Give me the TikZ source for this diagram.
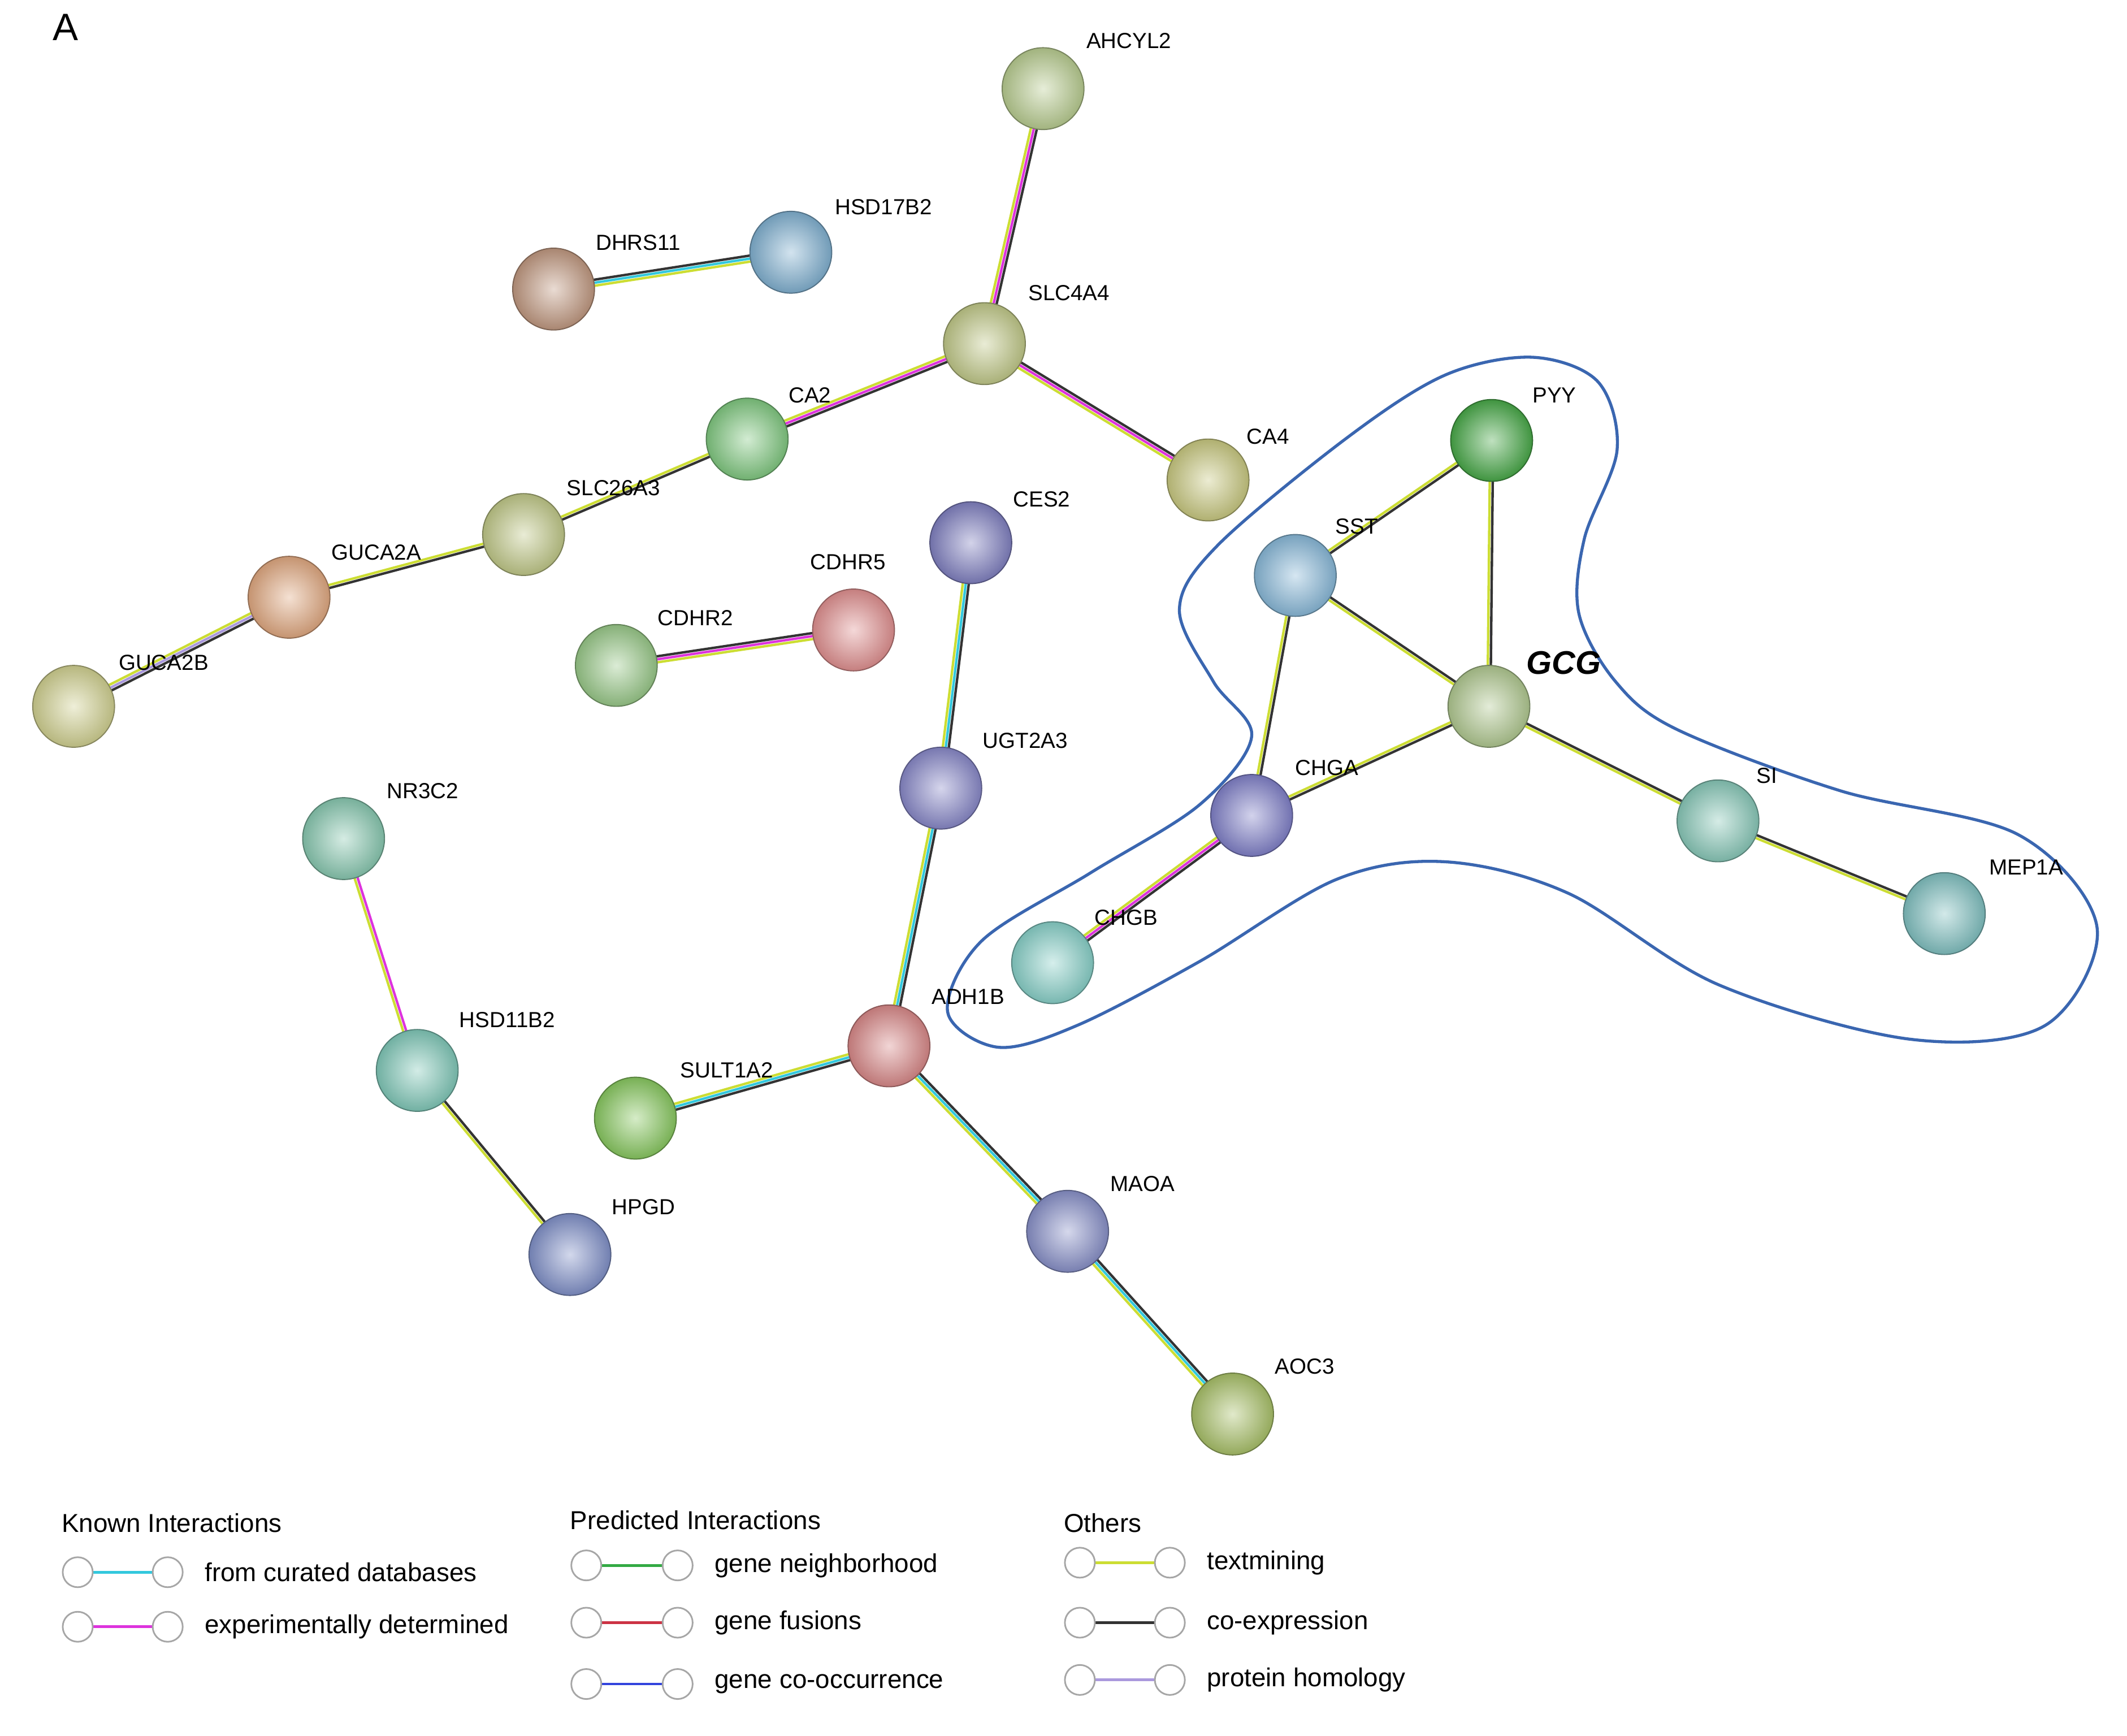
\documentclass[tikz,border=0pt]{standalone}
\usepackage{fontspec}
\setmainfont{Liberation Sans}
\usetikzlibrary{calc}
\definecolor{tm}{HTML}{CCDD33}
\definecolor{cur}{HTML}{33C8DD}
\definecolor{exp}{HTML}{DD33DD}
\definecolor{coe}{HTML}{333333}
\definecolor{hom}{HTML}{AA99DD}
\definecolor{nei}{HTML}{33AA44}
\definecolor{fus}{HTML}{CC3344}
\definecolor{coo}{HTML}{3344DD}
\definecolor{hull}{HTML}{3A66B0}
\newcommand\lnk[3]{\foreach \col/\off in {#3}{\draw[\col,line width=1.8pt] ($(#1)!\off pt!90:(#2)$) -- ($(#2)!\off pt!-90:(#1)$);}}
\tikzset{ball/.style={circle,minimum size=60pt,inner sep=0pt,shading=radial,inner color=#1!35!white,outer color=#1!88!black,draw=#1!65!black,line width=0.8pt},
lab/.style={font=\fontsize{16}{18}\selectfont,inner sep=0pt},
leg/.style={font=\fontsize{19}{22}\selectfont,inner sep=0pt,anchor=west},
lc/.style={circle,draw=gray!70,line width=1.2pt,fill=white,minimum size=22pt,inner sep=0pt}}
\begin{document}
\begin{tikzpicture}[x=1pt,y=-1pt]
\useasboundingbox (0,0) rectangle (1560,1273);
\node[font=\fontsize{28}{30}\selectfont] (A) at (48,20) {A};
% hull
\draw[hull,line width=2.2pt] plot[smooth cycle,tension=0.55] coordinates{(1124,262) (1060,275) (988,321) (893,400) (865,447) (890,500) (918,540) (880,590) (800,640) (720,690) (695,742) (732,768) (790,752) (880,705) (980,645) (1060,632) (1150,655) (1260,722) (1400,762) (1500,752) (1538,680) (1480,612) (1350,580) (1230,535) (1185,500) (1158,450) (1162,395) (1186,330) (1172,280)};
% coordinates
\foreach \n/\x/\y in {AHCYL2/765/65,DHRS11/406/212,HSD17B2/580/185,SLC4A4/722/252,CA2/548/322,CA4/886/352,SLC26A3/384/392,GUCA2A/212/438,GUCA2B/54/518,CES2/712/398,CDHR5/626/462,CDHR2/452/488,UGT2A3/690/578,NR3C2/252/615,HSD11B2/306/785,ADH1B/652/767,SULT1A2/466/820,HPGD/418/920,MAOA/783/903,AOC3/904/1037,PYY/1094/323,SST/950/422,GCG/1092/518,CHGA/918/598,SI/1260/602,MEP1A/1426/670,CHGB/772/706}
  \coordinate (\n) at (\x,\y);
% edges
\lnk{AHCYL2}{SLC4A4}{tm/-2.2,exp/0,coe/2.2}
\lnk{DHRS11}{HSD17B2}{tm/-2.2,cur/0,coe/2.2}
\lnk{SLC4A4}{CA2}{tm/-2.2,exp/0,coe/2.2}
\lnk{SLC4A4}{CA4}{tm/-2.2,exp/0,coe/2.2}
\lnk{CA2}{SLC26A3}{tm/-1.1,coe/1.1}
\lnk{SLC26A3}{GUCA2A}{tm/-1.1,coe/1.1}
\lnk{GUCA2A}{GUCA2B}{tm/-2.2,hom/0,coe/2.2}
\lnk{CES2}{UGT2A3}{tm/-2.2,cur/0,coe/2.2}
\lnk{CDHR2}{CDHR5}{tm/-2.2,exp/0,coe/2.2}
\lnk{UGT2A3}{ADH1B}{tm/-2.2,cur/0,coe/2.2}
\lnk{NR3C2}{HSD11B2}{tm/-1.1,exp/1.1}
\lnk{HSD11B2}{HPGD}{tm/-1.1,coe/1.1}
\lnk{ADH1B}{SULT1A2}{tm/-2.2,cur/0,coe/2.2}
\lnk{ADH1B}{MAOA}{tm/-2.2,cur/0,coe/2.2}
\lnk{MAOA}{AOC3}{tm/-2.2,cur/0,coe/2.2}
\lnk{PYY}{SST}{tm/-1.1,coe/1.1}
\lnk{PYY}{GCG}{tm/-1.1,coe/1.1}
\lnk{SST}{GCG}{tm/-1.1,coe/1.1}
\lnk{SST}{CHGA}{tm/-1.1,coe/1.1}
\lnk{GCG}{CHGA}{tm/-1.1,coe/1.1}
\lnk{GCG}{SI}{tm/-1.1,coe/1.1}
\lnk{SI}{MEP1A}{tm/-1.1,coe/1.1}
\lnk{CHGA}{CHGB}{tm/-2.2,exp/0,coe/2.2}
% node colours
\foreach \n/\h in {AHCYL2/B8CC90,DHRS11/C09880,HSD17B2/80B0D0,SLC4A4/C0C888,CA2/80C880,CA4/C8C880,SLC26A3/C0C888,GUCA2A/E0A880,GUCA2B/D0D090,CES2/8080C0,CDHR5/E09090,CDHR2/98C888,UGT2A3/8888C8,NR3C2/88C8B0,HSD11B2/80C8B8,ADH1B/D88888,SULT1A2/88C860,HPGD/8090C8,MAOA/8890C8,AOC3/A8C068,PYY/48A848,SST/88B8D8,GCG/B0C890,CHGA/8080C8,SI/88C8B8,MEP1A/80C0C0,CHGB/88D0C8}
  {\definecolor{c\n}{HTML}{\h}\node[ball=c\n] (n\n) at (\n) {};}
% labels
\foreach \n/\x/\y in {AHCYL2/828/30,DHRS11/468/178,HSD17B2/648/152,SLC4A4/784/215,CA2/594/290,CA4/930/320,SLC26A3/450/358,GUCA2A/276/405,GUCA2B/120/486,CES2/764/366,CDHR5/622/412,CDHR2/510/453,UGT2A3/752/543,NR3C2/310/580,HSD11B2/372/748,ADH1B/710/731,SULT1A2/533/785,HPGD/472/885,MAOA/838/868,AOC3/957/1002,PYY/1140/290,SST/995/386,CHGA/973/563,SI/1296/569,MEP1A/1486/636,CHGB/826/673}
  \node[lab] (l\n) at (\x,\y) {\n};
\node[font=\fontsize{24}{26}\selectfont\bfseries\itshape,inner sep=0pt] (lGCG) at (1147,486) {GCG};
% legend
\node[leg] (k) at (45,1117) {Known Interactions};
\node[leg] (p) at (418,1115) {Predicted Interactions};
\node[leg] (o) at (780,1117) {Others};
\foreach \i/\xa/\xb/\y/\c/\t in {1/57/123/1153/cur/from curated databases,2/57/123/1193/exp/experimentally determined,3/430/497/1148/nei/gene neighborhood,4/430/497/1190/fus/gene fusions,5/430/497/1235/coo/gene co-occurrence,6/792/858/1146/tm/textmining,7/792/858/1190/coe/co-expression,8/792/858/1232/hom/protein homology}{
  \coordinate (la\i) at (\xa,\y); \coordinate (lb\i) at (\xb,\y);
  \draw[\c,line width=2pt] (la\i) -- (lb\i);
  \node[lc] at (la\i) {}; \node[lc] at (lb\i) {};
  \node[leg] at (\xb+27,\y) {\t};
}
\end{tikzpicture}
\end{document}
